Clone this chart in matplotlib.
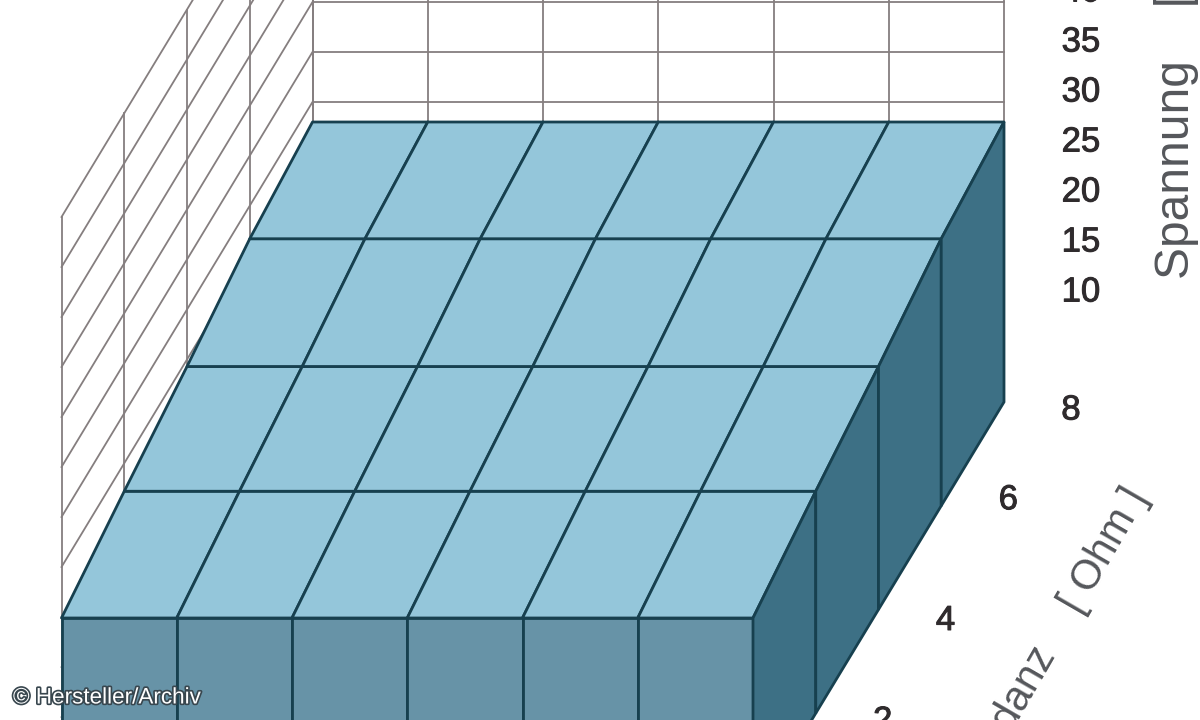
import matplotlib
matplotlib.use("Agg")
import matplotlib.pyplot as plt
from matplotlib.patches import Polygon
import matplotlib.patheffects as pe

# ---- data ----
frequency_bins = 6
impedance_ticks = [2, 4, 6, 8]
voltage_ticks = [10, 15, 20, 25, 30, 35, 40]
wall_levels = list(range(0, 65, 5))
# plateau voltage along the impedance axis, at each row edge (front to back)
plateau_voltage = [19.9, 22.2, 24.3, 26.7, 28.0]
wall_top = 60

TOP = "#94C6DA"
FRONT = "#6793A7"
SIDE = "#3D7085"
EDGE = "#17404F"
GRID = "#857E7F"
TXT = "#2F2B2D"
TITLE = "#55575B"

plt.rcParams["font.family"] = ["Liberation Sans", "DejaVu Sans"]
fig = plt.figure(figsize=(12, 7.2), dpi=100, facecolor="white")
ax = fig.add_axes([0, 0, 1, 1])
ax.set_xlim(0, 1200)
ax.set_ylim(720, 0)
ax.axis("off")


def proj(i, d, z):
    """Oblique projection: column i, depth row d, voltage z -> canvas."""
    return (61.5 + i * 115.25 + d * 62.75, 402 + (4 - d) * 103.75 - 10 * z)


n_rows = len(plateau_voltage) - 1

# back wall
corners = [proj(0, 4, 0), proj(frequency_bins, 4, 0),
           proj(frequency_bins, 4, wall_top), proj(0, 4, wall_top)]
ax.add_patch(Polygon(corners, fc="white", ec="none", zorder=1))
for i in range(frequency_bins + 1):
    p, q = proj(i, 4, 0), proj(i, 4, wall_top)
    ax.plot([p[0], q[0]], [p[1], q[1]], color=GRID, lw=1.3, zorder=2)
for z in wall_levels:
    p, q = proj(0, 4, z), proj(frequency_bins, 4, z)
    ax.plot([p[0], q[0]], [p[1], q[1]], color=GRID, lw=1.3, zorder=2)

# left wall
for d in range(n_rows + 1):
    p, q = proj(0, d, 0), proj(0, d, wall_top)
    ax.plot([p[0], q[0]], [p[1], q[1]], color=GRID, lw=1.3, zorder=2)
for z in wall_levels:
    p, q = proj(0, 0, z), proj(0, 4, z)
    ax.plot([p[0], q[0]], [p[1], q[1]], color=GRID, lw=1.3, zorder=2)

# plateau: top cells
for d in range(n_rows):
    for i in range(frequency_bins):
        z0, z1 = plateau_voltage[d], plateau_voltage[d + 1]
        ax.add_patch(Polygon([proj(i, d, z0), proj(i + 1, d, z0),
                              proj(i + 1, d + 1, z1), proj(i, d + 1, z1)],
                             fc=TOP, ec=EDGE, lw=2.0, joinstyle="round", zorder=4))
# front faces
for i in range(frequency_bins):
    z0 = plateau_voltage[0]
    ax.add_patch(Polygon([proj(i, 0, 0), proj(i + 1, 0, 0),
                          proj(i + 1, 0, z0), proj(i, 0, z0)],
                         fc=FRONT, ec=EDGE, lw=2.0, zorder=5))
# right side faces
for d in range(n_rows):
    z0, z1 = plateau_voltage[d], plateau_voltage[d + 1]
    ax.add_patch(Polygon([proj(frequency_bins, d, 0), proj(frequency_bins, d + 1, 0),
                          proj(frequency_bins, d + 1, z1), proj(frequency_bins, d, z0)],
                         fc=SIDE, ec=EDGE, lw=2.0, zorder=5))

bold = [pe.withStroke(linewidth=0.7, foreground=TXT)]

# voltage tick labels
for v in voltage_ticks:
    x, y = proj(frequency_bins, 4, v)
    ax.text(x + 77, y - 10, str(v), fontsize=25, color=TXT, ha="center", va="center",
            zorder=6, path_effects=bold)

# impedance tick labels
impedance_nudge = [0, 3, -14, 0]
for k, val in enumerate(impedance_ticks):
    x, y = proj(frequency_bins, k + 1, 0)
    ax.text(x + 67, y + 8 + impedance_nudge[k], str(val), fontsize=25, color=TXT,
            ha="center", va="center", zorder=6, path_effects=bold)

# axis titles
ax.text(1189, 279, "Spannung    [V]", rotation=90, fontsize=34.5, color=TITLE,
        ha="left", va="baseline", rotation_mode="anchor", zorder=6)
ax.text(1138, 491, "Impedanz    [ Ohm ]", rotation=60, fontsize=30, color=TITLE,
        ha="right", va="center", rotation_mode="anchor", zorder=6)

# credit
ax.text(13, 698, "© Hersteller/Archiv", fontsize=16.2, color="white", ha="left", va="center",
        zorder=8, path_effects=[pe.withStroke(linewidth=2.4, foreground="#38464e")])

fig.savefig("out.png", dpi=100)
